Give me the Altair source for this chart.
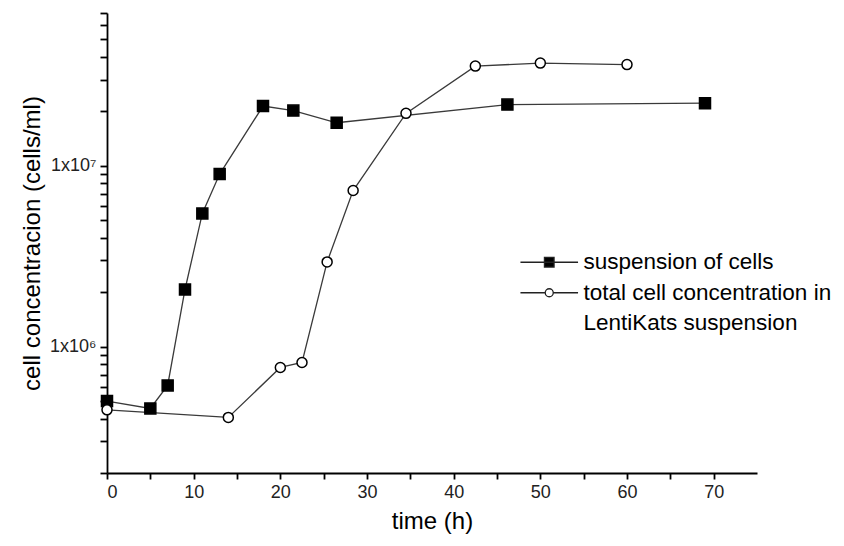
import altair as alt
import pandas as pd

# ---- data ----
sus_time = [0, 5, 7, 9, 11, 13, 18, 21.5, 26.5, 46.2, 69]
sus_conc = [5.0e5, 4.55e5, 6.1e5, 2.07e6, 5.45e6, 9.0e6, 2.14e7, 2.02e7, 1.73e7, 2.18e7, 2.22e7]

lk_time = [0, 14, 20, 22.5, 25.4, 28.4, 34.5, 42.5, 50, 60]
lk_conc = [4.47e5, 4.06e5, 7.67e5, 8.17e5, 2.94e6, 7.3e6, 1.95e7, 3.56e7, 3.70e7, 3.63e7]

series_names = ["suspension of cells", "total cell concentration in"]
legend_labels = ["suspension of cells", "total cell concentration in", "LentiKats suspension"]

x_ticks = [0, 5, 10, 15, 20, 25, 30, 35, 40, 45, 50, 55, 60, 65, 70]
y_ticks = [2e5, 3e5, 4e5, 5e5, 6e5, 7e5, 8e5, 9e5,
           1e6, 2e6, 3e6, 4e6, 5e6, 6e6, 7e6, 8e6, 9e6,
           1e7, 2e7, 3e7, 4e7, 5e7, 6e7, 7e7]

df = pd.concat([
    pd.DataFrame({"time": sus_time, "conc": sus_conc, "series": series_names[0]}),
    pd.DataFrame({"time": lk_time, "conc": lk_conc, "series": series_names[1]}),
], ignore_index=True)

legend_df = pd.DataFrame({"entry": legend_labels})

FONT = "Liberation Sans"

x_enc = alt.X(
    "time:Q",
    scale=alt.Scale(domain=[0, 75], nice=False, zero=False),
    axis=alt.Axis(
        title="time (h)",
        values=x_ticks,
        labelExpr="datum.value % 10 == 0 ? datum.label : ''",
        tickSize=6,
        grid=False,
    ),
)
y_enc = alt.Y(
    "conc:Q",
    scale=alt.Scale(type="log", domain=[2e5, 7e7], nice=False),
    axis=alt.Axis(
        title="cell concentracion (cells/ml)",
        values=y_ticks,
        labelExpr="datum.value == 1000000 ? '1x10⁶' : (datum.value == 10000000 ? '1x10⁷' : '')",
        tickSize=7,
        grid=False,
    ),
)

base = alt.Chart(df)

lines = base.mark_line(color="#3a3a3a", strokeWidth=1.3).encode(
    x=x_enc, y=y_enc, detail="series:N", order="time:Q"
)

points = base.mark_point(filled=True, stroke="black", strokeWidth=1.5, opacity=1).encode(
    x=x_enc,
    y=y_enc,
    shape=alt.Shape("series:N", scale=alt.Scale(domain=series_names, range=["square", "circle"]), legend=None),
    fill=alt.Fill("series:N", scale=alt.Scale(domain=series_names, range=["black", "white"]), legend=None),
    size=alt.Size("series:N", scale=alt.Scale(domain=series_names, range=[121, 100]), legend=None),
)

SQ = "M-4.8,0H4.8M-0.8,-0.8H0.8V0.8H-0.8Z"
CI = "M-4.8,0H-0.67M0.67,0H4.8M0.67,0A0.67,0.67,0,1,1,-0.67,0A0.67,0.67,0,1,1,0.67,0Z"
legend_props = dict(
    title=None, orient="none", legendX=431, legendY=238, padding=0,
    labelFont=FONT, labelFontSize=22.5, labelColor="black", labelOffset=23,
    symbolSize=144, symbolStrokeColor="black", symbolStrokeWidth=1.3,
    symbolOpacity=1, rowPadding=7.5, labelLimit=400,
)
legend_layer = alt.Chart(legend_df).transform_filter("false").mark_point(
    filled=False, size=144, opacity=1, strokeWidth=1.3
).encode(
    shape=alt.Shape("entry:N", scale=alt.Scale(domain=legend_labels, range=[SQ, CI, "M0,0"]),
                    legend=alt.Legend(**legend_props)),
    fill=alt.Fill("entry:N", scale=alt.Scale(domain=legend_labels, range=["black", "white", "white"]),
                  legend=alt.Legend(**legend_props)),
    stroke=alt.Stroke("entry:N", scale=alt.Scale(domain=legend_labels, range=["#222222", "#222222", "#222222"]),
                      legend=alt.Legend(**legend_props)),
)

chart = alt.layer(lines, points, legend_layer).resolve_scale(
    shape="independent", fill="independent", stroke="independent"
).properties(
    width=650, height=460,
    padding={"left": 99, "top": 5, "right": 79, "bottom": 70},
    autosize="none",
).configure_view(stroke=None).configure_axis(
    domainColor="black", domainWidth=1.8, tickColor="black", tickWidth=1.8,
    labelFont=FONT, labelFontSize=18, labelColor="#222",
    titleFont=FONT, titleFontSize=24, titleFontWeight="normal", titleColor="black",
    labelPadding=4,
).configure_axisX(titlePadding=8).configure_axisY(titlePadding=5)

chart.save("out.html", embed_options={"renderer": "svg", "actions": False})
